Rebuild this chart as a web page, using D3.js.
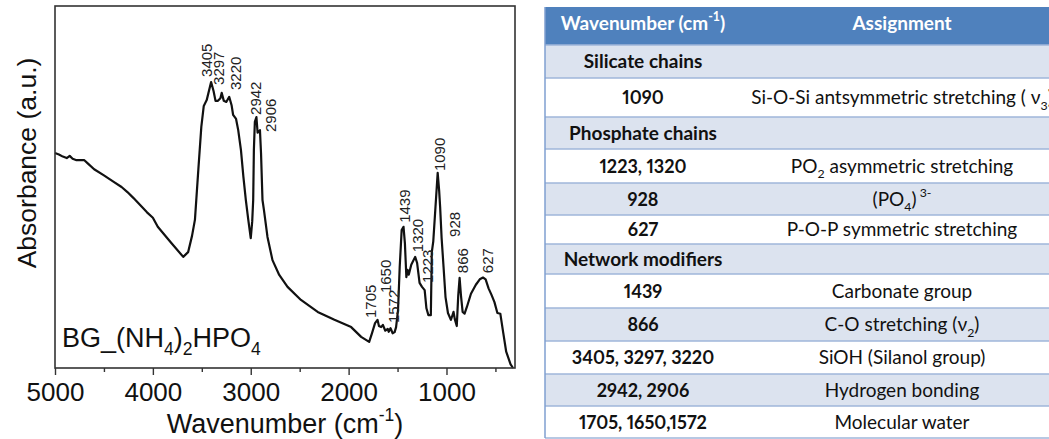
<!DOCTYPE html>
<html>
<head>
<meta charset="utf-8">
<script src="https://cdn.jsdelivr.net/npm/d3@7"></script>
<style>
  body { margin: 0; background: #fff; }
  svg { display: block; }
</style>
</head>
<body>
<svg id="chart" width="1049" height="439"></svg>
<script>
// ---------- FTIR spectrum data: wavenumber (cm-1) and absorbance (a.u.) ----------
const wavenumbers = [
  5000, 4960, 4920, 4880, 4850, 4820, 4780, 4700, 4660, 4600, 4500, 4400, 4320, 4260, 4200,
  4130, 4060, 4000, 3950, 3820, 3690, 3640, 3600, 3570, 3535, 3505, 3480, 3450, 3405, 3380,
  3360, 3335, 3310, 3297, 3275, 3250, 3220, 3195, 3180, 3150, 3128, 3100, 3075, 3050, 3025,
  3000, 2985, 2975, 2968, 2958, 2942, 2930, 2906, 2895, 2880, 2865, 2829, 2778, 2709, 2624,
  2487, 2316, 2145, 1974, 1872, 1790, 1760, 1730, 1705, 1690, 1668, 1650, 1625, 1600, 1590,
  1572, 1550, 1530, 1515, 1495, 1478, 1458, 1439, 1425, 1410, 1398, 1385, 1360, 1320, 1300,
  1275, 1250, 1223, 1205, 1185, 1160, 1150, 1135, 1090, 1075, 1065, 1050, 1030, 1010, 985,
  955, 940, 928, 915, 895, 880, 866, 852, 835, 815, 790, 750, 700, 660, 627,
  600, 570, 540, 510, 480, 450, 420, 390, 345, 320
];
const absorbance = [
  59.4, 59.0, 58.4, 58.0, 58.6, 57.8, 57.4, 57.4, 56.4, 54.9, 53.2, 51.4, 50.0, 48.6, 47.0,
  45.0, 43.0, 41.5, 39.0, 34.8, 30.7, 32.0, 36.5, 41.0, 55.0, 66.6, 72.4, 74.0, 79.0, 76.5,
  73.8, 73.8, 74.5, 76.0, 73.8, 73.5, 74.9, 72.5, 69.9, 68.8, 65.7, 60.2, 52.8, 46.4, 40.9,
  35.9, 40.5, 46.4, 60.2, 68.0, 69.3, 65.0, 65.7, 59.4, 46.4, 43.6, 36.2, 29.8, 25.7, 22.4,
  18.8, 15.5, 13.3, 11.3, 8.6, 7.2, 9.7, 12.4, 13.3, 11.6, 11.3, 11.9, 10.3, 10.8, 10.0,
  11.0, 9.6, 9.9, 11.3, 16.0, 27.9, 38.1, 39.0, 34.5, 25.1, 27.1, 25.8, 28.5, 30.7, 29.0,
  23.5, 22.4, 21.5, 16.5, 14.6, 14.6, 32.0, 35.0, 53.9, 49.0, 44.5, 36.0, 27.9, 19.6, 15.2,
  13.3, 14.5, 15.5, 13.5, 11.6, 20.0, 24.9, 20.0, 15.5, 15.0, 17.0, 20.5, 23.0, 24.5, 25.0,
  24.5, 22.0, 20.2, 18.2, 15.2, 15.0, 9.7, 4.5, 1.0, 0.0
];

// Peak annotations and the point (wavenumber, absorbance) where each rotated label starts
const peakLabels   = ["3405", "3297", "3220", "2942", "2906", "1705", "1650", "1572", "1439", "1320", "1223", "1090", "928", "866", "627"];
const labelAnchorWn  = [3400, 3270, 3100, 2894, 2742, 1724, 1572, 1490, 1368, 1236, 1134, 1012, 860, 778, 524];
const labelAnchorAbs = [80.4, 78.2, 76.8, 69.9, 65.2, 13.8, 20.7, 12.4, 40.1, 32.0, 23.5, 54.4, 36.2, 26.2, 26.2];

const majorTicks = [5000, 4000, 3000, 2000, 1000];
const minorTicks = [4500, 3500, 2500, 1500, 500];

// ---------- Band assignment table ----------
const tableHeaders = ["Wavenumber (cm^{-1})", "Assignment"];
const tableWavenumbers = [
  "Silicate chains", "1090", "Phosphate chains", "1223, 1320", "928", "627",
  "Network modifiers", "1439", "866", "3405, 3297, 3220", "2942, 2906", "1705, 1650,1572"
];
const tableAssignments = [
  "", "Si-O-Si antsymmetric stretching ( ν_{3})", "", "PO_{2} asymmetric stretching", "(PO_{4})^{ 3-}",
  "P-O-P symmetric stretching", "", "Carbonate group", "C-O stretching (ν_{2})",
  "SiOH (Silanol group)", "Hydrogen bonding", "Molecular water"
];

// ---------- Layout ----------
const plot = { left: 55, right: 515, top: 6, bottom: 368 };
const rowEdges = [7, 45, 78, 117, 149, 183, 215, 244, 274, 308, 341, 374, 406, 438];
const table = { left: 545, split: 741, right: 1070 };
const AXIS_FONT = "'Liberation Sans', Arial, Helvetica, sans-serif";
const TABLE_FONT = "Lato, 'Open Sans', sans-serif";

const svg = d3.select("#chart");

// Renders "a_{sub}b^{sup}" markup as tspans
function richText(textSel, str) {
  const parts = str.split(/(_\{[^}]*\}|\^\{[^}]*\})/).filter(s => s.length);
  const fs = parseFloat(textSel.attr("font-size"));
  let shift = 0;
  parts.forEach(p => {
    let target = 0, content = p, small = false;
    if (p.startsWith("_{")) { target = 0.3; content = p.slice(2, -1); small = true; }
    else if (p.startsWith("^{")) { target = -0.45; content = p.slice(2, -1); small = true; }
    const ts = textSel.append("tspan").text(content);
    const dyPx = (target - shift) * fs;
    if (dyPx !== 0) ts.attr("dy", dyPx);
    if (small) ts.attr("font-size", fs * 0.65);
    shift = target;
  });
}

// ---------- Spectrum ----------
const x = d3.scaleLinear().domain([5000, 300]).range([plot.left, plot.right]);
const y = d3.scaleLinear().domain([0, 100]).range([plot.bottom, plot.top]);

const g = svg.append("g");

const points = wavenumbers.map((w, i) => [w, absorbance[i]]);
g.append("path")
  .datum(points)
  .attr("fill", "none")
  .attr("stroke", "#111")
  .attr("stroke-width", 2.2)
  .attr("stroke-linejoin", "round")
  .attr("d", d3.line().x(d => x(d[0])).y(d => y(d[1])));

// frame
g.append("rect")
  .attr("x", plot.left).attr("y", plot.top)
  .attr("width", plot.right - plot.left).attr("height", plot.bottom - plot.top)
  .attr("fill", "none").attr("stroke", "#333").attr("stroke-width", 1.6);

// bottom axis: labelled major ticks, unlabelled minor ticks
const axMajor = g.append("g")
  .attr("transform", `translate(0,${plot.bottom})`)
  .call(d3.axisBottom(x).tickValues(majorTicks).tickSize(7).tickPadding(8).tickFormat(d3.format("d")));
const axMinor = g.append("g")
  .attr("transform", `translate(0,${plot.bottom})`)
  .call(d3.axisBottom(x).tickValues(minorTicks).tickSize(4).tickFormat(""));
[axMajor, axMinor].forEach(a => {
  a.select(".domain").remove();
  a.selectAll("line").attr("stroke", "#333").attr("stroke-width", 1.4);
});
axMajor.selectAll("text")
  .attr("font-family", AXIS_FONT).attr("font-size", 26).attr("fill", "#111");

// axis titles
const xt = g.append("text")
  .attr("x", (plot.left + plot.right) / 2).attr("y", 433)
  .attr("text-anchor", "middle")
  .attr("font-family", AXIS_FONT).attr("font-size", 27).attr("fill", "#111");
richText(xt, "Wavenumber (cm^{-1})");

g.append("text")
  .attr("transform", "translate(36,163) rotate(-90)")
  .attr("text-anchor", "middle")
  .attr("font-family", AXIS_FONT).attr("font-size", 26.5).attr("fill", "#111")
  .text("Absorbance (a.u.)");

// sample name
const sample = g.append("text")
  .attr("x", 62).attr("y", 347)
  .attr("font-family", AXIS_FONT).attr("font-size", 27).attr("fill", "#111");
richText(sample, "BG_(NH_{4})_{2}HPO_{4}");

// peak labels
g.append("g").selectAll("text")
  .data(peakLabels)
  .join("text")
  .attr("transform", (d, i) => `translate(${x(labelAnchorWn[i])},${y(labelAnchorAbs[i])}) rotate(-90)`)
  .attr("font-family", AXIS_FONT).attr("font-size", 15).attr("fill", "#222")
  .text(d => d);

// ---------- Table ----------
const tg = svg.append("g");
const rowCount = rowEdges.length - 1;
const fills = d3.range(rowCount).map(i => i === 0 ? "#4F81BD" : (i % 2 === 1 ? "#DCE3EF" : "#FFFFFF"));

tg.selectAll("rect.row")
  .data(d3.range(rowCount))
  .join("rect")
  .attr("class", "row")
  .attr("x", table.left).attr("y", i => rowEdges[i])
  .attr("width", table.right - table.left).attr("height", i => rowEdges[i + 1] - rowEdges[i])
  .attr("fill", i => fills[i]);

// row separators
tg.selectAll("line.sep")
  .data(rowEdges.slice(1))
  .join("line")
  .attr("class", "sep")
  .attr("x1", table.left).attr("x2", table.right)
  .attr("y1", d => d).attr("y2", d => d)
  .attr("stroke", "#9FB6DA").attr("stroke-width", 1.5);

tg.append("line")
  .attr("x1", table.left).attr("x2", table.left)
  .attr("y1", rowEdges[0]).attr("y2", rowEdges[rowCount])
  .attr("stroke", "#7F9FD0").attr("stroke-width", 1.5);

const col1 = 643;
const col2 = 902;

tableHeaders.forEach((h, j) => {
  const t = tg.append("text")
    .attr("x", j === 0 ? col1 : col2)
    .attr("y", 30)
    .attr("text-anchor", "middle")
    .attr("font-family", TABLE_FONT).attr("font-weight", 700)
    .attr("font-size", 19).attr("fill", "#fff");
  richText(t, h);
});

tableWavenumbers.forEach((c, i) => {
  const yMid = (rowEdges[i + 1] + rowEdges[i + 2]) / 2 + 6.5;
  const numeric = /^[0-9]/.test(c);
  tg.append("text")
    .attr("x", col1).attr("y", yMid)
    .attr("text-anchor", "middle")
    .attr("font-family", TABLE_FONT).attr("font-weight", 700)
    .attr("font-size", numeric ? 18 : 19).attr("fill", "#111")
    .style("font-variant-numeric", "proportional-nums")
    .text(c);
  if (tableAssignments[i]) {
    const t = tg.append("text")
      .attr("x", col2).attr("y", yMid)
      .attr("text-anchor", "middle")
      .attr("font-family", TABLE_FONT)
      .attr("font-size", 19).attr("fill", "#111");
    richText(t, tableAssignments[i]);
  }
});
</script>
</body>
</html>
